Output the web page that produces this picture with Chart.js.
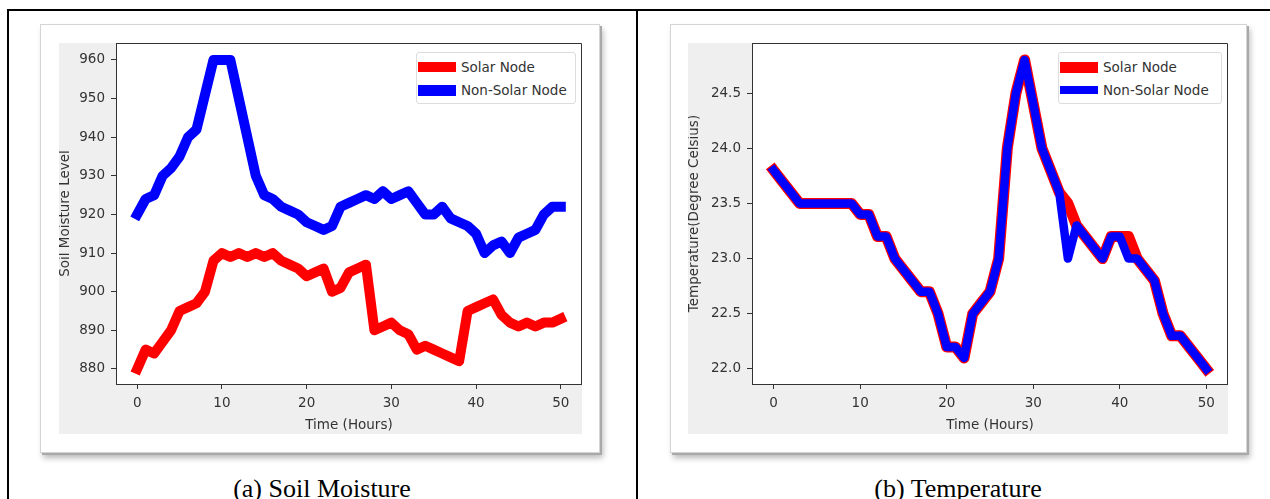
<!DOCTYPE html>
<html>
<head>
<meta charset="utf-8">
<script src="https://cdn.jsdelivr.net/npm/chart.js@4.4.1/dist/chart.umd.min.js"></script>
<style>
  html, body { margin: 0; padding: 0; background: #fff; }
  body { width: 1270px; height: 499px; position: relative; overflow: hidden; font-family: 'DejaVu Sans', sans-serif; }
  .rule { position: absolute; background: #000; }
  .frame {
    position: absolute; top: 24px; height: 427px; background: #fff;
    border: 1px solid #d4d4d4;
    box-shadow: 2px 2px 0 #a9a9a9, 3px 5px 6px rgba(0,0,0,0.28);
  }
  .plot { position: absolute; top: 43px; height: 391px; background: #efefef; }
  .legend {
    position: absolute; top: 52px; height: 50px; background: #fff;
    border: 1px solid #dcdcdc; border-radius: 3px;
  }
  .legend .row { position: absolute; left: 0; height: 22px; width: 100%; }
  .legend .patch { position: absolute; left: 1px; width: 38px; }
  .legend .txt { position: absolute; left: 44px; top: 3px; font-size: 13.5px; color: #333; line-height: 16px; white-space: nowrap; }
  .caption {
    position: absolute; top: 474px; font-family: 'Liberation Serif', 'Times New Roman', serif;
    font-size: 26px; line-height: 29px; color: #000; text-align: center; width: 400px;
  }
</style>
</head>
<body>
<div class="rule" style="left:7px; top:9px; width:1280px; height:2px;"></div>
<div class="rule" style="left:7px; top:9px; width:2px; height:500px;"></div>
<div class="rule" style="left:636px; top:9px; width:2px; height:500px;"></div>

<div class="frame" style="left:40px; width:558px;"></div>
<div class="frame" style="left:670px; width:575px;"></div>

<div class="plot" style="left:59px; width:523px;"><canvas id="soilChart"></canvas></div>
<div class="plot" style="left:688px; width:540px;"><canvas id="tempChart"></canvas></div>

<div class="legend" id="soilLegend" style="left:416px; width:158px;"></div>
<div class="legend" id="tempLegend" style="left:1058px; width:162px;"></div>

<div class="caption" style="left:122px;">(a) Soil Moisture</div>
<div class="caption" style="left:758px;">(b) Temperature</div>

<script>
// time axis (hours)
const hours = [0,1,2,3,4,5,6,7,8,9,10,11,12,13,14,15,16,17,18,19,20,21,22,23,24,25,26,27,28,29,30,31,32,33,34,35,36,37,38,39,40,41,42,43,44,45,46,47,48,49,50];
const hourTicks = [0, 10, 20, 30, 40, 50];

// (a) soil moisture
const soilSolar = [880,885,884,887,890,895,896,897,900,908,910,909,910,909,910,909,910,908,907,906,904,905,906,900,901,905,906,907,890,891,892,890,889,885,886,885,884,883,882,895,896,897,898,894,892,891,892,891,892,892,893];
const soilNonSolar = [920,924,925,930,932,935,940,942,951,960,960,960,950,940,930,925,924,922,921,920,918,917,916,917,922,923,924,925,924,926,924,925,926,923,920,920,922,919,918,917,915,910,912,913,910,914,915,916,920,922,922];
const soilTicks = [880, 890, 900, 910, 920, 930, 940, 950, 960];

// (b) temperature
const tempSolar = [23.8,23.7,23.6,23.5,23.5,23.5,23.5,23.5,23.5,23.5,23.4,23.4,23.2,23.2,23.0,22.9,22.8,22.7,22.7,22.5,22.2,22.2,22.1,22.5,22.6,22.7,23.0,24.0,24.5,24.8,24.4,24.0,23.8,23.6,23.5,23.3,23.2,23.1,23.0,23.2,23.2,23.2,23.0,22.9,22.8,22.5,22.3,22.3,22.2,22.1,22.0];
const tempNonSolar = [23.8,23.7,23.6,23.5,23.5,23.5,23.5,23.5,23.5,23.5,23.4,23.4,23.2,23.2,23.0,22.9,22.8,22.7,22.7,22.5,22.2,22.2,22.1,22.5,22.6,22.7,23.0,24.0,24.5,24.8,24.4,24.0,23.8,23.6,23.0,23.3,23.2,23.1,23.0,23.2,23.2,23.0,23.0,22.9,22.8,22.5,22.3,22.3,22.2,22.1,22.0];
const tempTicks = [22.0, 22.5, 23.0, 23.5, 24.0, 24.5];

const seriesNames = ['Solar Node', 'Non-Solar Node'];
const seriesColors = ['#ff0000', '#0000ff'];

Chart.defaults.font.family = "'DejaVu Sans', sans-serif";
Chart.defaults.font.size = 13.5;
Chart.defaults.color = '#333';

const toPoints = vals => hours.map((h, i) => ({ x: h, y: vals[i] }));

// white plot face plus the top/right spines
const axesBox = {
    id: 'axesBox',
    beforeDraw(chart) {
        const { ctx, chartArea: a } = chart;
        ctx.save();
        ctx.fillStyle = '#fff';
        ctx.fillRect(a.left, a.top, a.right - a.left, a.bottom - a.top);
        ctx.restore();
    },
    afterDraw(chart) {
        const { ctx, chartArea: a } = chart;
        ctx.save();
        ctx.strokeStyle = '#333';
        ctx.lineWidth = 1;
        ctx.beginPath();
        ctx.moveTo(a.left, a.top + 0.5);
        ctx.lineTo(a.right - 0.5, a.top + 0.5);
        ctx.lineTo(a.right - 0.5, a.bottom);
        ctx.stroke();
        ctx.restore();
    }
};

function renderPanel(canvasId, values, widths, yRange, yTicks, yTitle, yAxisWidth, fmt) {
    const datasets = values.map((vals, i) => ({
        label: seriesNames[i],
        data: toPoints(vals),
        borderColor: seriesColors[i],
        backgroundColor: seriesColors[i],
        borderWidth: widths[i],
        borderCapStyle: 'square',
        borderJoinStyle: 'round',
        pointRadius: 0,
        tension: 0,
        order: values.length - i   // blue on top
    }));

    return new Chart(document.getElementById(canvasId), {
        type: 'line',
        data: { datasets },
        options: {
            responsive: true,
            maintainAspectRatio: false,
            animation: false,
            layout: { padding: 0 },
            plugins: { legend: { display: false }, tooltip: { enabled: false } },
            scales: {
                x: {
                    type: 'linear',
                    min: -2.5,
                    max: 52.5,
                    afterBuildTicks: s => { s.ticks = hourTicks.map(v => ({ value: v })); },
                    afterFit: s => { s.height = 50; s.paddingLeft = 0; s.paddingRight = 0; },
                    grid: { drawOnChartArea: false, drawTicks: true, tickLength: 5, color: '#333' },
                    border: { display: true, color: '#333' },
                    ticks: { padding: 6, color: '#333', maxRotation: 0 },
                    title: { display: true, text: 'Time (Hours)', color: '#333', padding: { top: 0, bottom: 0 } }
                },
                y: {
                    min: yRange[0],
                    max: yRange[1],
                    afterBuildTicks: s => { s.ticks = yTicks.map(v => ({ value: v })); },
                    afterFit: s => { s.width = yAxisWidth; s.paddingTop = 0; s.paddingBottom = 0; },
                    grid: { drawOnChartArea: false, drawTicks: true, tickLength: 5, color: '#333' },
                    border: { display: true, color: '#333' },
                    ticks: { padding: 6, color: '#333', callback: fmt },
                    title: { display: true, text: yTitle, color: '#333', padding: 0, font: { lineHeight: 1 } }
                }
            }
        },
        plugins: [axesBox]
    });
}

function buildLegend(elId, patchHeights) {
    const box = document.getElementById(elId);
    seriesNames.forEach((name, i) => {
        const row = document.createElement('div');
        row.className = 'row';
        row.style.top = (3 + i * 23) + 'px';
        const patch = document.createElement('div');
        patch.className = 'patch';
        patch.style.background = seriesColors[i];
        patch.style.height = patchHeights[i] + 'px';
        patch.style.top = (11 - patchHeights[i] / 2) + 'px';
        const txt = document.createElement('div');
        txt.className = 'txt';
        txt.textContent = name;
        row.appendChild(patch);
        row.appendChild(txt);
        box.appendChild(row);
    });
}

renderPanel('soilChart', [soilSolar, soilNonSolar], [10, 10], [876.1, 964.4], soilTicks,
    'Soil Moisture Level', 57, v => String(v));
renderPanel('tempChart', [tempSolar, tempNonSolar], [11, 8.5], [21.864, 24.953], tempTicks,
    'Temperature(Degree Celsius)', 64, v => Number(v).toFixed(1));

buildLegend('soilLegend', [10, 11]);
buildLegend('tempLegend', [11, 8]);
</script>
</body>
</html>
